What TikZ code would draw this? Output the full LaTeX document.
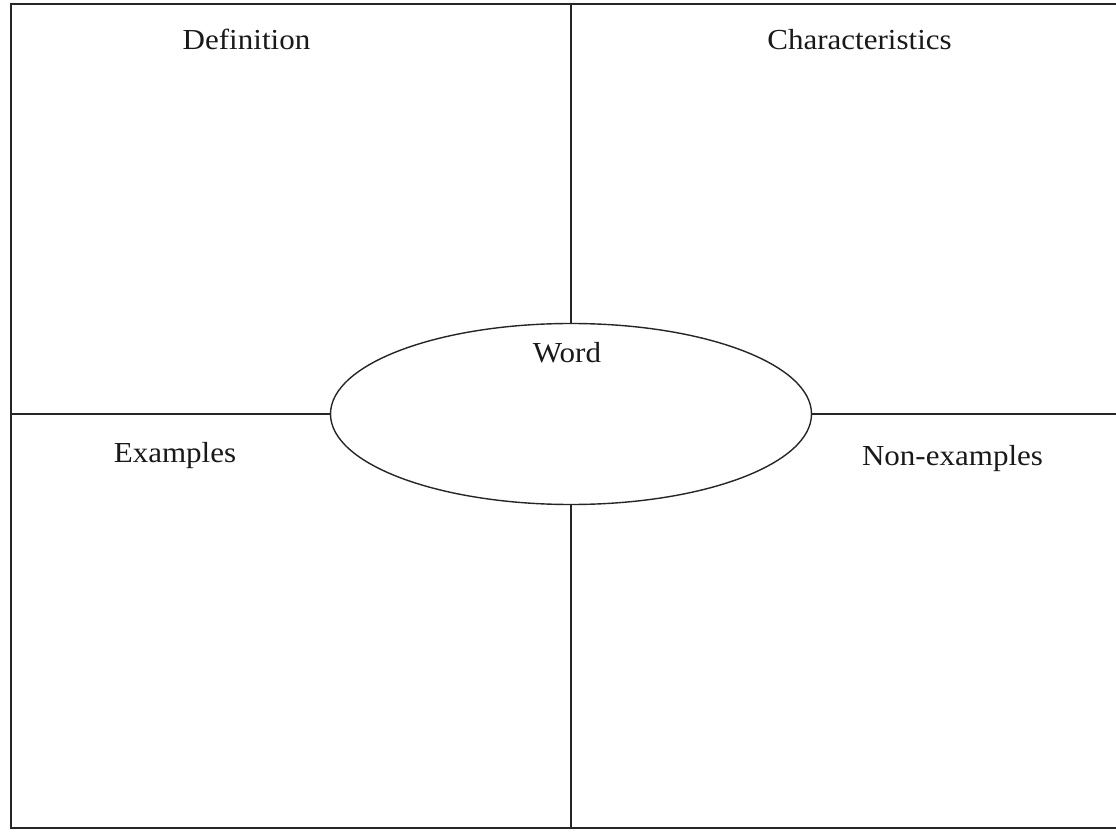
\documentclass[tikz,border=0pt]{standalone}
\usepackage{fontspec}
\setmainfont{Liberation Serif}
\usetikzlibrary{shapes.geometric}
\begin{document}
\begin{tikzpicture}[x=1pt,y=1pt,
  frameline/.style={line width=1.6pt,black!85},
  divline/.style={line width=1.4pt,black!85},
  lbl/.style={anchor=base,inner sep=0pt,font=\fontsize{29}{34}\selectfont,xscale=1.07,text=black!90}]
\useasboundingbox (0,0) rectangle (1116,831);
\fill[white] (0,0) rectangle (1116,831);
% frame corners
\coordinate (tl) at (11,827);
\coordinate (bl) at (11,3);
\coordinate (tr) at (1117,827);
\coordinate (br) at (1117,3);
\coordinate (tm) at (571,827);
\coordinate (bm) at (571,3);
\coordinate (lm) at (11,417);
\coordinate (rm) at (1117,417);
\draw[frameline] (tr) -- (tl) -- (bl) -- (br);
% central ellipse
\node[draw,ellipse,line width=1.4pt,black!85,minimum width=481pt,minimum height=181pt,inner sep=0pt] (word) at (571,417) {};
\draw[divline] (tm) -- (word.north);
\draw[divline] (word.south) -- (bm);
\draw[divline] (lm) -- (word.west);
\draw[divline] (word.east) -- (rm);
% labels
\node[lbl] (def) at (246.5,781) {Definition};
\node[lbl] (cha) at (859.5,781) {Characteristics};
\node[lbl] (wrd) at (567,468) {Word};
\node[lbl] (exa) at (175,369) {Examples};
\node[lbl] (non) at (952.5,366) {Non-examples};
\end{tikzpicture}
\end{document}
